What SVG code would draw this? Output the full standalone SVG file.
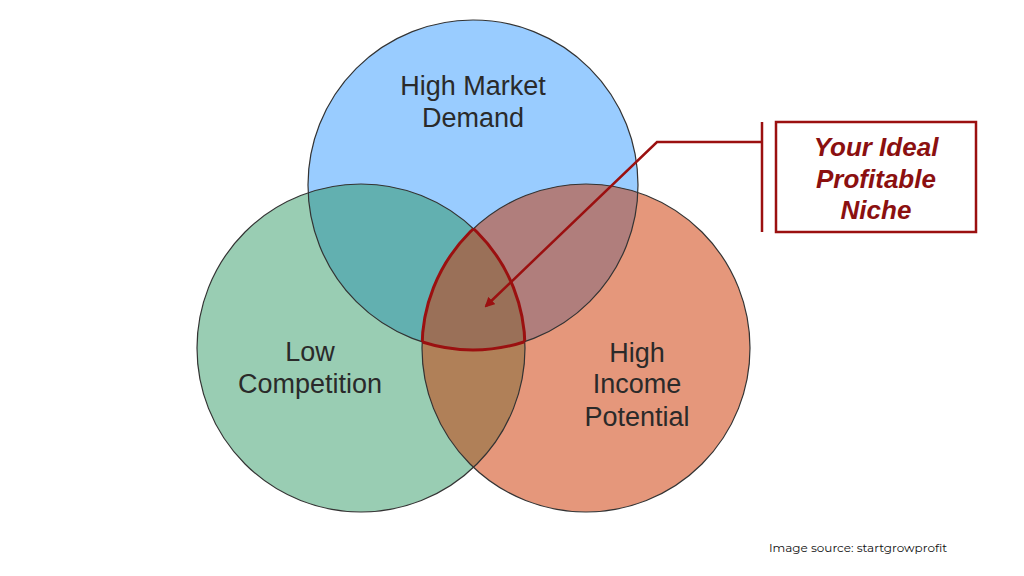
<svg xmlns="http://www.w3.org/2000/svg" width="1024" height="576" viewBox="0 0 1024 576">
<style>
.lbl{font-family:"Liberation Sans",Arial,sans-serif;font-size:27px;fill:#2a2a2a;text-anchor:middle}
.cl{font-family:"Liberation Sans",Arial,sans-serif;font-size:26px;font-weight:bold;font-style:italic;fill:#8b1010;text-anchor:middle}
.ring{fill:none;stroke:#333;stroke-width:1.2}
.red{fill:none;stroke:#9b1010;stroke-width:3}
</style>
<defs>
<clipPath id="cb"><circle cx="473" cy="185" r="165"/></clipPath>
<clipPath id="cg"><circle cx="361" cy="348" r="164"/></clipPath>
<clipPath id="co"><circle cx="586" cy="348" r="164"/></clipPath>
<marker id="ah" markerWidth="10" markerHeight="10" refX="8" refY="5" orient="auto" markerUnits="userSpaceOnUse" viewBox="0 0 10 10"><path d="M0,0 L10,5 L0,10 z" fill="#9b1010"/></marker>
</defs>
<rect width="1024" height="576" fill="#fff"/>
<g id="blue"><circle cx="473" cy="185" r="165" fill="#99ccff"/></g>
<g id="green"><circle cx="361" cy="348" r="164" fill="#99cdb3"/></g>
<g id="orange"><circle cx="586" cy="348" r="164" fill="#e5977b"/></g>
<g id="overlaps">
<circle cx="361" cy="348" r="164" fill="#62b0b0" clip-path="url(#cb)"/>
<circle cx="586" cy="348" r="164" fill="#b07e7c" clip-path="url(#cb)"/>
<g clip-path="url(#cg)"><circle cx="586" cy="348" r="164" fill="#b08058"/></g>
<g clip-path="url(#cb)"><g clip-path="url(#cg)"><circle id="triple" cx="586" cy="348" r="164" fill="#9a7058"/></g></g>
</g>
<g id="outlines">
<circle class="ring" cx="473" cy="185" r="165"/>
<circle class="ring" cx="361" cy="348" r="164"/>
<circle class="ring" cx="586" cy="348" r="164"/>
<g clip-path="url(#cb)"><g clip-path="url(#cg)"><circle class="red" cx="586" cy="348" r="164"/></g></g>
<g clip-path="url(#cg)"><g clip-path="url(#co)"><circle class="red" cx="473" cy="185" r="165"/></g></g>
<g clip-path="url(#cb)"><g clip-path="url(#co)"><circle class="red" cx="361" cy="348" r="164"/></g></g>
</g>
<g id="labels">
<text class="lbl" x="473" y="95">High Market</text>
<text class="lbl" x="473" y="127">Demand</text>
<text class="lbl" x="310" y="361">Low</text>
<text class="lbl" x="310" y="393">Competition</text>
<text class="lbl" x="637" y="362">High</text>
<text class="lbl" x="637" y="393">Income</text>
<text class="lbl" x="637" y="426">Potential</text>
</g>
<g id="callout">
<rect x="776" y="122" width="200" height="110" fill="#fff" stroke="#9b1010" stroke-width="2.5"/>
<text class="cl" x="876" y="156">Your Ideal</text>
<text class="cl" x="876" y="188">Profitable</text>
<text class="cl" x="876" y="219">Niche</text>
</g>
<g id="connectors">
<line x1="762" y1="122" x2="762" y2="232" stroke="#9b1010" stroke-width="2.5"/>
<polyline points="762,142 657,142 486,306" fill="none" stroke="#9b1010" stroke-width="2.5" marker-end="url(#ah)"/>
</g>
<text x="858" y="552" style="font-family:Montserrat,'Open Sans',sans-serif;font-size:12px;fill:#111;text-anchor:middle">Image source: startgrowprofit</text>
</svg>
